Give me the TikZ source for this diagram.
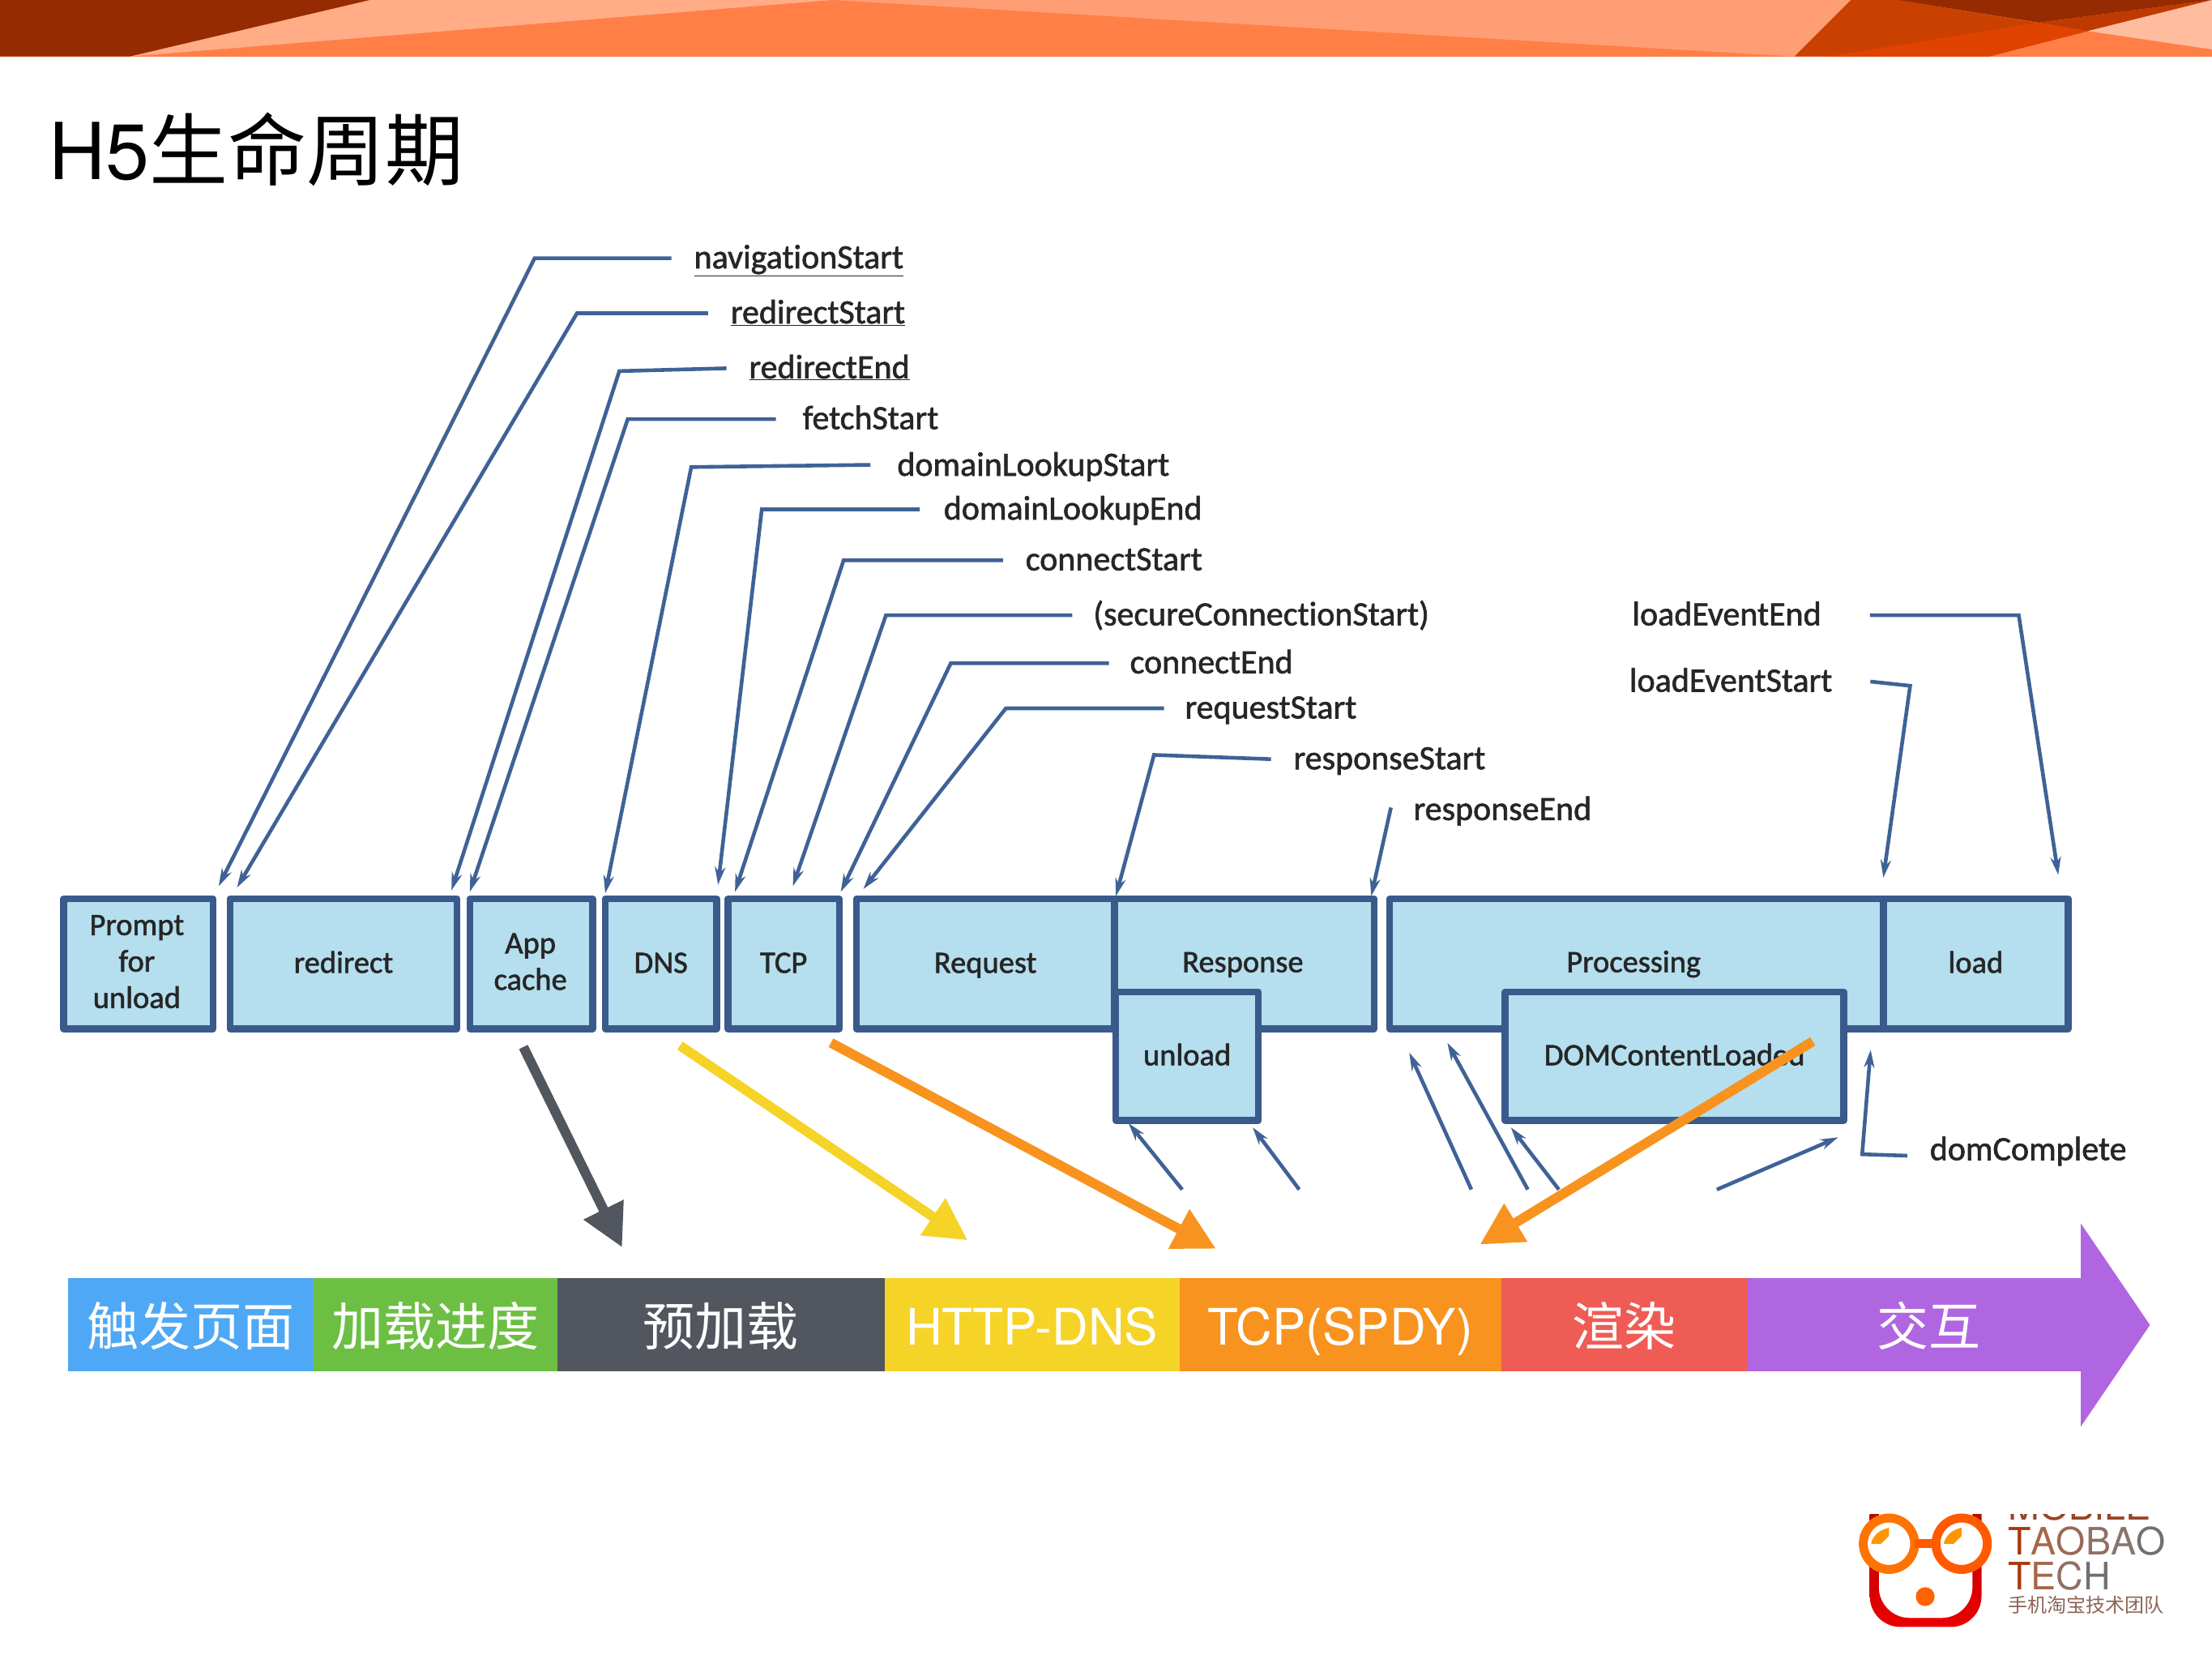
\documentclass[tikz,border=0pt]{standalone}
\usepackage{fontspec}
\setmainfont{Carlito}[FakeBold=1.5,RawFeature={-liga}]
\newfontfamily\cjkf{Noto Sans CJK SC}
\newfontfamily\helv{TeX Gyre Heros}
\usetikzlibrary{arrows.meta}
\def\pxu{1.74107pt}
\definecolor{boxline}{HTML}{3A5A8C}
\definecolor{boxfill}{HTML}{B5DEEE}
\definecolor{tline}{HTML}{3F6296}
\tikzset{
 tbox/.style={draw=boxline,fill=boxfill,line width=8.5pt,inner sep=0pt,outer sep=0pt,align=center,
   text=black!85,font=\fontsize{38.5}{45}\selectfont,line join=round},
 btxt/.style={inner sep=0pt,align=center,text=black!85,font=\fontsize{38.5}{45}\selectfont},
 one/.style={text height=22.5pt,text depth=0pt},
 tlabel/.style={anchor=west,inner sep=0pt,outer sep=0pt,text=black!85,font=\fontsize{42}{50}\selectfont,text height=25pt,text depth=0pt},
 tarrow/.style={draw=tline,line width=4.6pt,-{Stealth[length=22pt,width=13pt]}},
 bigarrow/.style={line width=12pt,-{Triangle[length=52pt,width=52pt]}},
 seg/.style={inner sep=0pt,outer sep=0pt,text=white,minimum height=66*\pxu,anchor=west,text height=51pt,text depth=0pt,font=\fontsize{64}{70}\selectfont},
 segl/.style={seg,text height=49pt,font=\fontsize{62}{70}\selectfont},
 logotxt/.style={anchor=base west,inner sep=0pt,outer sep=0pt},
}
\begin{document}
\begin{tikzpicture}[x=1.74107pt,y=-1.74107pt]
\useasboundingbox (0,0) rectangle (1568,1175.7);
% header
\fill[color={rgb,255:red,255;green,127;blue,71}] (0,0) rectangle (1568,40);
\fill[color={rgb,255:red,255;green,172;blue,135}] (262,0) -- (590,0) -- (92,40) -- cycle;
\fill[color={rgb,255:red,255;green,158;blue,117}] (590,0) -- (1312,0) -- (1272,40) -- cycle;
\fill[color={rgb,255:red,150;green,42;blue,0}] (0,0) -- (262,0) -- (92,40) -- (0,40) -- cycle;
\fill[color={rgb,255:red,201;green,64;blue,0}] (1272,40) -- (1312,0) -- (1345,0) -- (1480,22) -- (1410,40) -- cycle;
\fill[color={rgb,255:red,224;green,67;blue,0}] (1295,40) -- (1445,16) -- (1480,22) -- (1410,40) -- cycle;
\fill[color={rgb,255:red,150;green,42;blue,0}] (1345,0) -- (1568,0) -- (1445,16) -- cycle;
\fill[color={rgb,255:red,190;green,58;blue,0}] (1445,16) -- (1568,0) -- (1480,22) -- cycle;
\fill[color={rgb,255:red,255;green,188;blue,159}] (1568,0) -- (1568,35) -- (1480,22) -- cycle;
% title
\node[anchor=base west,inner sep=0pt,font=\fontsize{97}{110}\selectfont] (title) at (34.5,127) {\helv H5\cjkf 生命周期};
% boxes
\node[tbox,minimum width=106*\pxu,minimum height=92*\pxu] (prompt) at (98,683) {};
\node[btxt] (prompttxt) at (97,681.5) {Prompt\\for\\unload};
\node[tbox,one,minimum width=161*\pxu,minimum height=92*\pxu] (redirect) at (243.5,683) {redirect};
\node[tbox,minimum width=87*\pxu,minimum height=92*\pxu] (appcache) at (376.5,683) {};
\node[btxt] (appcachetxt) at (376,681.5) {App\\cache};
\node[tbox,one,minimum width=79*\pxu,minimum height=92*\pxu] (dns) at (468.5,683) {DNS};
\node[tbox,one,minimum width=79*\pxu,minimum height=92*\pxu] (tcp) at (555.5,683) {TCP};
\node[tbox,one,minimum width=183*\pxu,minimum height=92*\pxu] (request) at (698.5,683) {Request};
\node[tbox,minimum width=184*\pxu,minimum height=92*\pxu] (response) at (882,683) {};
\node[tbox,minimum width=350*\pxu,minimum height=92*\pxu] (processing) at (1160,683) {};
\node[tbox,one,minimum width=131*\pxu,minimum height=92*\pxu] (load) at (1400.5,683) {load};
\node[tbox,one,minimum width=101*\pxu,minimum height=91*\pxu] (unload) at (841.5,748.5) {unload};
\node[tbox,one,minimum width=240*\pxu,minimum height=91*\pxu] (dcl) at (1187,748.5) {DOMContentLoaded};
\node[btxt,one] (resptxt) at (881,682.5) {Response};
\node[btxt,one] (proctxt) at (1158,682.5) {Processing};
% labels
\node[tlabel] (l1) at (492,183) {\underline{navigationStart}};
\node[tlabel] (l2) at (518,222) {\underline{redirectStart}};
\node[tlabel] (l3) at (531,261) {\underline{redirectEnd}};
\node[tlabel] (l4) at (569,297) {fetchStart};
\node[tlabel] (l5) at (636,330) {domainLookupStart};
\node[tlabel] (l6) at (669,361) {domainLookupEnd};
\node[tlabel] (l7) at (727,397) {connectStart};
\node[tlabel] (l8) at (775,436) {(secureConnectionStart)};
\node[tlabel] (l9) at (801,470) {connectEnd};
\node[tlabel] (l10) at (840,502) {requestStart};
\node[tlabel] (l11) at (917,538) {responseStart};
\node[tlabel] (l12) at (1002,574) {responseEnd};
\node[tlabel] (l13) at (1157,436) {loadEventEnd};
\node[tlabel] (l14) at (1155,483) {loadEventStart};
\node[tlabel] (l15) at (1368,815) {domComplete};
% timing lines
\coordinate (e1) at (155,628);
\coordinate (e2) at (168,629);
\coordinate (e3) at (320,631);
\coordinate (e4) at (333,632);
\coordinate (e5) at (429,633);
\coordinate (e6) at (509,627);
\coordinate (e7) at (521,632);
\coordinate (e8) at (562,628);
\coordinate (e9) at (596,632);
\coordinate (e10) at (612,630);
\coordinate (e11) at (791,635);
\coordinate (e12) at (972,635);
\coordinate (e13) at (1459,620);
\coordinate (e14) at (1335,622);
\coordinate (e15) at (1326,744);
\draw[tarrow] ([xshift=-27.9pt]l1.west) -- (379,183) -- (e1);
\draw[tarrow] ([xshift=-27.9pt]l2.west) -- (409,222) -- (e2);
\draw[tarrow] ([xshift=-27.9pt]l3.west) -- (439,263) -- (e3);
\draw[tarrow] ([xshift=-33pt]l4.west) -- (445,297) -- (e4);
\draw[tarrow] ([xshift=-33pt,yshift=1pt]l5.west) -- (490,331) -- (e5);
\draw[tarrow] ([xshift=-29.6pt]l6.west) -- (540,361) -- (e6);
\draw[tarrow] ([xshift=-27.9pt]l7.west) -- (598,397) -- (e7);
\draw[tarrow] ([xshift=-26pt]l8.west) -- (628,436) -- (e8);
\draw[tarrow] ([xshift=-26pt]l9.west) -- (674,470) -- (e9);
\draw[tarrow] ([xshift=-26pt]l10.west) -- (713,502) -- (e10);
\draw[tarrow] ([xshift=-27.9pt]l11.west) -- (818,535) -- (e11);
\draw[tarrow] ([xshift=-27.9pt,yshift=3pt]l12.west) -- (e12);
\draw[tarrow] ([xshift=60pt]l13.east) -- (1431,436) -- (e13);
\draw[tarrow] ([xshift=47pt]l14.east) -- (1354,486) -- (e14);
\draw[tarrow] ([xshift=-27.9pt,yshift=-7pt]l15.west) -- (1320,818) -- (e15);
% lower stubs
\coordinate (s1) at (838,843); \coordinate (t1) at (800,796);
\coordinate (s2) at (921,843); \coordinate (t2) at (888,799);
\coordinate (s3) at (1043,843); \coordinate (t3) at (999,746);
\coordinate (s4) at (1083,843); \coordinate (t4) at (1026,739);
\coordinate (s5) at (1105,843); \coordinate (t5) at (1071,799);
\coordinate (s6) at (1217,843); \coordinate (t6) at (1303,806);
\draw[tarrow] (s1) -- (t1);
\draw[tarrow] (s2) -- (t2);
\draw[tarrow] (s3) -- (t3);
\draw[tarrow] (s4) -- (t4);
\draw[tarrow] (s5) -- (t5);
\draw[tarrow] (s6) -- (t6);
% bar
\fill[color={rgb,255:red,176;green,102;blue,224}] (1475,867) -- (1524,939) -- (1475,1011) -- cycle;
\node[seg,fill={rgb,255:red,79;green,168;blue,245},minimum width=174*\pxu] (b1) at (48,939) {\cjkf 触发页面};
\node[seg,fill={rgb,255:red,108;green,191;blue,66},minimum width=173*\pxu] (b2) at (222,939) {\cjkf 加载进度};
\node[seg,fill={rgb,255:red,82;green,86;blue,94},minimum width=232*\pxu] (b3) at (395,939) {\cjkf 预加载};
\node[segl,fill={rgb,255:red,245;green,211;blue,39},minimum width=209*\pxu] (b4) at (627,939) {\helv HTTP-DNS};
\node[segl,fill={rgb,255:red,247;green,147;blue,30},minimum width=228*\pxu] (b5) at (836,939) {\helv TCP(SPDY)};
\node[seg,fill={rgb,255:red,239;green,91;blue,85},minimum width=175*\pxu] (b6) at (1064,939) {\cjkf 渲染};
\node[seg,fill={rgb,255:red,176;green,102;blue,224},minimum width=236*\pxu] (b7) at (1239,939) {\hspace*{34.8pt}\cjkf 交互};
% big arrows
\coordinate (g1) at (371,742); \coordinate (g2) at (441,884);
\coordinate (y1) at (482,741); \coordinate (y2) at (686,879);
\coordinate (o1) at (589,739); \coordinate (o2) at (862,885);
\coordinate (p1) at (1285,738); \coordinate (p2) at (1049,882);
\draw[bigarrow,color={rgb,255:red,82;green,86;blue,94}] (g1) -- (g2);
\draw[bigarrow,color={rgb,255:red,245;green,211;blue,39}] (y1) -- (y2);
\draw[bigarrow,color={rgb,255:red,247;green,147;blue,30}] (o1) -- (o2);
\draw[bigarrow,color={rgb,255:red,247;green,147;blue,30}] (p1) -- (p2);
% logo
\begin{scope}
\clip (1300,1073) rectangle (1568,1175);
\shade[top color={rgb,255:red,140;green,42;blue,0},bottom color={rgb,255:red,235;green,0;blue,0},middle color={rgb,255:red,200;green,0;blue,0},even odd rule,rounded corners=38pt]
 (1325.4,1040) -- (1325.4,1153) -- (1404.6,1153) -- (1404.6,1040) -- cycle
 (1331.8,1040) -- (1331.8,1146.6) -- (1398.2,1146.6) -- (1398.2,1040) -- cycle;
\node[logotxt,font=\helv\fontsize{46.5}{50}\selectfont,color={rgb,255:red,150;green,70;blue,40}] (mob) at (1423.5,1077) {MOBILE};
\end{scope}
\draw[line width=11pt,fill=white,draw={rgb,255:red,255;green,115;blue,0}] (1339,1094) circle (18.2);
\draw[line width=11pt,fill=white,draw={rgb,255:red,255;green,90;blue,0}] (1390.5,1094) circle (18.2);
\draw[line width=11pt,color={rgb,255:red,255;green,90;blue,0}] (1357,1094) -- (1372,1094);
\fill[color={rgb,255:red,255;green,150;blue,0}] (1326.4,1094) -- (1333.4,1094) -- (1339,1088.5) -- (1339,1082.7) .. controls (1332,1084) and (1327,1089) .. (1326.4,1094) -- cycle;
\fill[color={rgb,255:red,255;green,150;blue,0}] (1377.9,1094) -- (1384.9,1094) -- (1390.5,1088.5) -- (1390.5,1082.7) .. controls (1383.5,1084) and (1378.5,1089) .. (1377.9,1094) -- cycle;
\fill[color={rgb,255:red,255;green,100;blue,0}] (1364.7,1131.5) circle (6.7);
\node[logotxt,font=\helv\fontsize{46.5}{50}\selectfont] (tb) at (1423.5,1101.8) {\textcolor[HTML]{A8380A}{T}\textcolor[HTML]{A5664A}{A}\textcolor[HTML]{9A6A55}{O}\textcolor[HTML]{8F7062}{B}\textcolor[HTML]{86756C}{A}\textcolor[HTML]{707070}{O}};
\node[logotxt,font=\helv\fontsize{46.5}{50}\selectfont] (te) at (1423.5,1126.8) {\textcolor[HTML]{A8380A}{T}\textcolor[HTML]{A5664A}{E}\textcolor[HTML]{8F7062}{C}\textcolor[HTML]{707070}{H}};
\node[anchor=west,inner sep=0pt,font=\cjkf\fontsize{24}{26}\selectfont,color={rgb,255:red,140;green,100;blue,85}] (cn) at (1423.5,1137.6) {手机淘宝技术团队};
\end{tikzpicture}
\end{document}
